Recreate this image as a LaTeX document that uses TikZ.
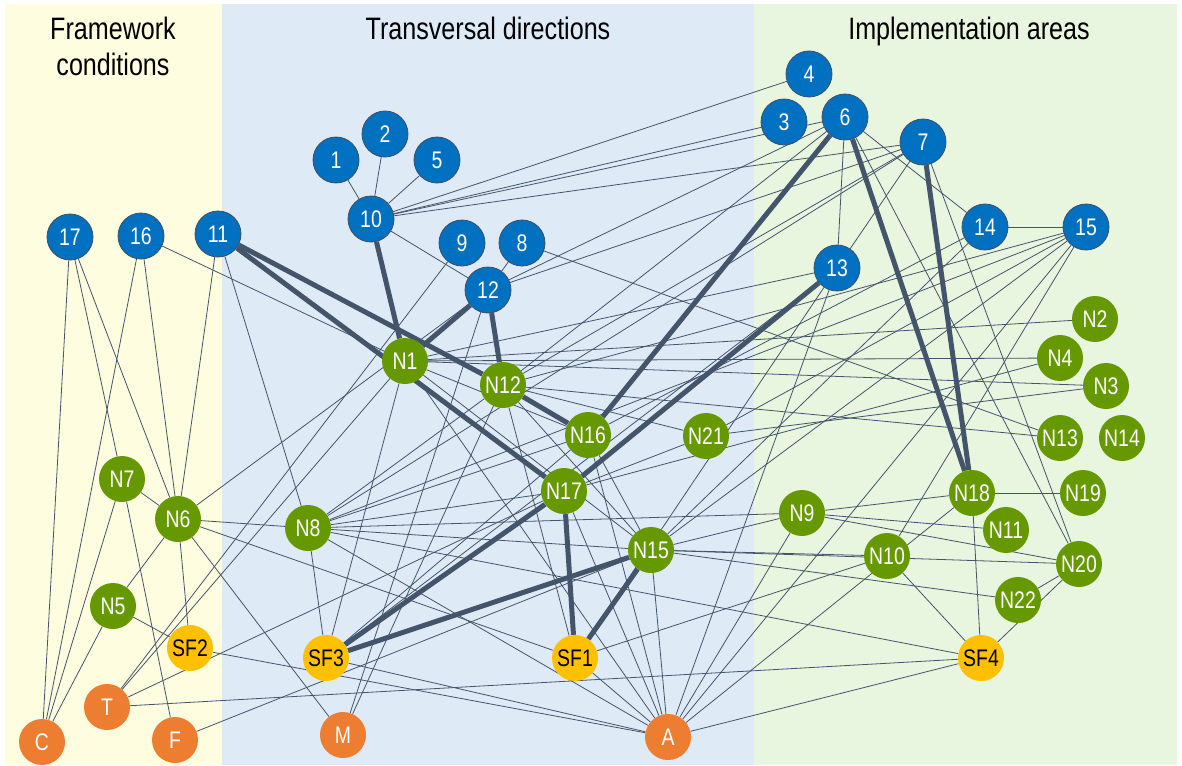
\documentclass[tikz,border=0pt]{standalone}
\usepackage{fontspec}
\setmainfont[FakeStretch=0.81]{Liberation Sans}
\pgfdeclarelayer{bg}
\pgfdeclarelayer{edges}
\pgfsetlayers{bg,edges,main}
\definecolor{bandY}{HTML}{FFFDE0}
\definecolor{bandB}{HTML}{DEEAF6}
\definecolor{bandG}{HTML}{E8F5DF}
\definecolor{blueN}{HTML}{0070C0}
\definecolor{greenN}{HTML}{669900}
\definecolor{orangeN}{HTML}{ED7D31}
\definecolor{yellowN}{HTML}{FFC000}
\definecolor{edgec}{HTML}{44546A}
\definecolor{bordc}{HTML}{3F4F63}
\tikzset{
  basenode/.style={circle,minimum size=46pt,inner sep=0pt,font=\fontsize{24}{24}\selectfont},
  bnode/.style={basenode,draw=bordc,line width=0.8pt,fill=blueN,text=white},
  gnode/.style={basenode,fill=greenN,text=white},
  onode/.style={basenode,fill=orangeN,text=white},
  ynode/.style={basenode,fill=yellowN,text=black},
  ln/.style={draw=edgec,line width=0.8pt},
  tk/.style={draw=edgec,line width=5pt},
  ttl/.style={anchor=base,font=\fontsize{31}{31}\selectfont}
}
\begin{document}
\begin{tikzpicture}[x=1pt,y=-1pt]
\begin{pgfonlayer}{bg}
\fill[white] (0,0) rectangle (1182,765);
\fill[bandY] (5,4) rectangle (222,765);
\fill[bandB] (222,4) rectangle (754,765);
\fill[bandG] (754,4) rectangle (1177,765);
\end{pgfonlayer}
\node[ttl] (t1) at (113,40) {Framework};
\node[ttl] (t2) at (113,76) {conditions};
\node[ttl] (t3) at (488,40) {Transversal directions};
\node[ttl] (t4) at (969,40) {Implementation areas};
% blue
\node[bnode] (b17) at (70,237) {17};
\node[bnode] (b16) at (141,236) {16};
\node[bnode] (b11) at (218,234) {11};
\node[bnode] (b1) at (336,160) {1};
\node[bnode] (b2) at (385,134) {2};
\node[bnode] (b5) at (437,160) {5};
\node[bnode] (b10) at (371,219) {10};
\node[bnode] (b9) at (462,243) {9};
\node[bnode] (b8) at (522,243) {8};
\node[bnode] (b12) at (488,290) {12};
\node[bnode] (b4) at (809,74) {4};
\node[bnode] (b3) at (784,122) {3};
\node[bnode] (b6) at (845,117) {6};
\node[bnode] (b7) at (923,142) {7};
\node[bnode] (b13) at (837,268) {13};
\node[bnode] (b14) at (985,227) {14};
\node[bnode] (b15) at (1086,227) {15};
% green
\node[gnode] (n1) at (405,361) {N1};
\node[gnode] (n12) at (503,385) {N12};
\node[gnode] (n16) at (588,435) {N16};
\node[gnode] (n21) at (706,436) {N21};
\node[gnode] (n17) at (564,491) {N17};
\node[gnode] (n15) at (651,550) {N15};
\node[gnode] (n7) at (122,479) {N7};
\node[gnode] (n6) at (178,519) {N6};
\node[gnode] (n8) at (308,528) {N8};
\node[gnode] (n5) at (113,606) {N5};
\node[gnode] (n2) at (1095,319) {N2};
\node[gnode] (n4) at (1060,358) {N4};
\node[gnode] (n3) at (1106,386) {N3};
\node[gnode] (n13) at (1060,438) {N13};
\node[gnode] (n14) at (1122,438) {N14};
\node[gnode] (n19) at (1083,493) {N19};
\node[gnode] (n18) at (972,493) {N18};
\node[gnode] (n11) at (1006,530) {N11};
\node[gnode] (n9) at (802,513) {N9};
\node[gnode] (n10) at (887,556) {N10};
\node[gnode] (n20) at (1079,564) {N20};
\node[gnode] (n22) at (1018,600) {N22};
% yellow
\node[ynode] (sf2) at (190,648) {SF2};
\node[ynode] (sf3) at (326,658) {SF3};
\node[ynode] (sf1) at (575,658) {SF1};
\node[ynode] (sf4) at (981,658) {SF4};
% orange
\node[onode] (oC) at (42,742) {C};
\node[onode] (oT) at (107,707) {T};
\node[onode] (oF) at (175,740) {F};
\node[onode] (oM) at (343,735) {M};
\node[onode] (oA) at (668,737) {A};
\begin{pgfonlayer}{edges}
\foreach \a/\b in {b17/oC,b17/n7,b17/n6,b16/oC,b16/n6,b16/n1,b11/n6,b11/n8,
  n7/n6,n7/oC,n7/oF,n6/n5,n6/sf2,n6/n8,n6/oM,n6/sf1,n6/b12,n5/oC,n5/sf2,sf2/oA,
  oT/sf4,oT/b9,oT/n1,oT/n17,oF/n15,
  b1/b10,b2/b10,b5/b10,b10/b4,b10/b3,b10/b6,b10/b7,b10/b12,b8/b12,b8/n13,b12/b6,b12/b7,
  n1/n2,n1/n4,n1/n3,n1/n16,n1/n15,n1/oA,n1/sf3,n1/b13,
  n12/n13,n12/n21,n12/n15,n12/sf1,n12/oM,n12/n8,n12/b15,n12/b7,n12/b6,
  n16/n8,n16/b14,n16/oA,n16/sf3,
  n21/n3,n21/n17,
  n17/n4,n17/n8,n17/oA,
  n15/n8,n15/n9,n15/n10,n15/n20,n15/oA,n15/b15,n15/n16,n15/n22,
  n8/n9,n8/sf3,n8/oA,n8/sf4,n8/b7,
  sf3/oA,sf3/b13,b12/oM,
  sf1/n10,sf1/oA,sf1/b13,
  oA/n9,oA/n18,oA/sf4,oA/b13,oA/b15,
  n9/n20,n9/n11,n9/n18,n18/n19,n18/sf4,
  n10/sf4,n20/b6,n20/b7,n20/n22,n20/sf4,
  b6/b13,b6/b14,b7/b13,b14/b15,b14/n15,b15/n10,b15/n21,b15/n8}
  \draw[ln] (\a) -- (\b);
\foreach \a/\b in {b10/n1,b12/n1,b12/n12,b11/n12,b11/n17,n12/n16,b6/n16,b6/n18,b7/n18,b13/n17,n17/sf3,n17/sf1,n15/sf3,n15/sf1}
  \draw[tk] (\a) -- (\b);
\end{pgfonlayer}
\end{tikzpicture}
\end{document}
